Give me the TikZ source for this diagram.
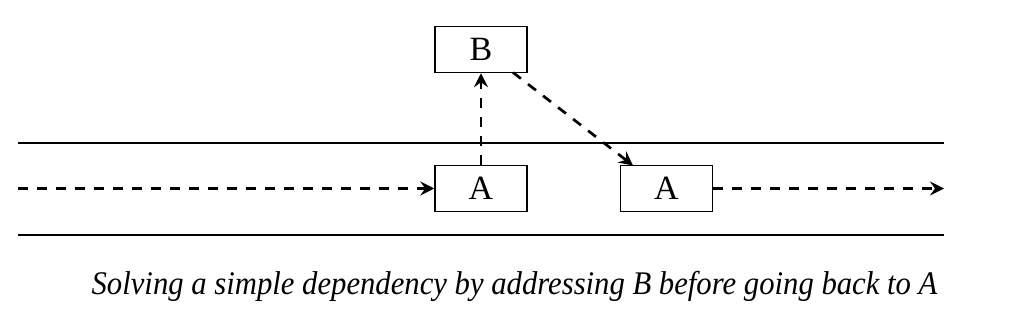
\documentclass[tikz,border=0pt]{standalone}
\usepackage{fontspec}
\setmainfont{Liberation Serif}
\usetikzlibrary{arrows.meta}
\begin{document}
\begin{tikzpicture}[x=0.5pt,y=-0.5pt,
  box/.style={draw,line width=0.75pt,minimum width=46pt,minimum height=23pt,inner sep=0pt,font=\fontsize{17}{20}\selectfont},
  dep/.style={line width=1.35pt,dash pattern=on 5pt off 4.5pt,-{Stealth[length=7pt,width=7pt,inset=2.5pt]}},
  lane/.style={line width=0.6pt}]
\useasboundingbox (0,0) rectangle (1024,325);
\draw[lane] (18,143) coordinate (tl) -- (944,143) coordinate (tr);
\draw[lane] (18,235) coordinate (bl) -- (944,235) coordinate (br);
\node[box] (A1) at (481,188.5) {A};
\node[box] (B) at (481,49.5) {B};
\node[box] (A2) at (666.5,188.5) {A};
\coordinate (start) at (18,188.5);
\coordinate (end) at (944,188.5);
\draw[dep] (start) -- (A1.west);
\draw[dep] (A1.north) -- (B.south);
\draw[dep] (513,72.5) -- (633,165.5);
\draw[dep] (A2.east) -- (end);
\node[anchor=base,inner sep=0pt,font=\fontsize{16.5}{19}\selectfont\itshape] (cap) at (514.5,295) {\scalebox{0.93}[1]{Solving a simple dependency by addressing B before going back to A}};
\end{tikzpicture}
\end{document}
